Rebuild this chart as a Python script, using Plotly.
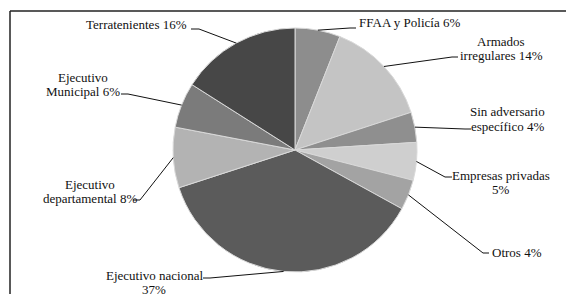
import math
import plotly.graph_objects as go

# ---- data ----
categories = ["FFAA y Policía", "Armados irregulares", "Sin adversario específico",
              "Empresas privadas", "Otros", "Ejecutivo nacional",
              "Ejecutivo departamental", "Ejecutivo Municipal", "Terratenientes"]
values = [6, 14, 4, 5, 4, 37, 8, 6, 16]
label_lines = [["FFAA y Policía 6%"], ["Armados", "irregulares 14%"],
               ["Sin adversario", "específico 4%"], ["Empresas privadas", "5%"],
               ["Otros 4%"], ["Ejecutivo nacional", "37%"],
               ["Ejecutivo", "departamental 8%"], ["Ejecutivo", "Municipal 6%"],
               ["Terratenientes 16%"]]

# ---- styles / layout ----
colors = ["#8d8d8d", "#c4c4c4", "#8f8f8f", "#cfcfcf", "#a3a3a3",
          "#5b5b5b", "#b3b3b3", "#7b7b7b", "#474747"]
W, H = 574, 294
OFF = 8  # page body margin offset
CX, CY, R = 295, 150, 122  # pie center / radius in screen px
LINE_GAP = 14
FONT = "Liberation Serif"

# label anchor (screen px, first line), xanchor; knee point and end point of leader (screen px)
label_pos = [(357, 23, "left"), (501, 41, "center"), (508, 112, "center"),
             (501, 175, "center"), (490, 252, "left"), (154, 275, "center"),
             (90, 184, "center"), (83, 77, "center"), (189, 25, "right")]
knees = [(350, 28), (452, 57), (465, 129), (445, 177), (483, 253),
         (210, 278), (140, 200), (128, 94), (199, 29)]
ends = [(356, 28), (458, 57), (471, 129), (452, 177), (489, 253),
        (203, 278), (133, 200), (121, 94), (191, 29)]

def px(x):
    return (x - OFF) / W

def py(y):
    return 1 - (y - OFF) / H

fig = go.Figure(go.Pie(
    labels=categories, values=values, sort=False, direction="clockwise", rotation=0,
    textinfo="none", hoverinfo="label+percent",
    marker=dict(colors=colors, line=dict(color="#d9d9d9", width=1)),
    domain=dict(x=[px(CX - R), px(CX + R)], y=[py(CY + R), py(CY - R)]),
    showlegend=False,
))

shapes = []
# frame (top and left edges)
shapes.append(dict(type="line", xref="paper", yref="paper", x0=px(10), x1=1.0, y0=py(11), y1=py(11),
                   line=dict(color="#222222", width=1.5)))
shapes.append(dict(type="line", xref="paper", yref="paper", x0=px(10), x1=px(10), y0=py(11), y1=0,
                   line=dict(color="#222222", width=1.5)))

total = sum(values)
cum = 0
annotations = []
for i, v in enumerate(values):
    mid = (cum + v / 2) / total * 2 * math.pi
    cum += v
    ex = CX + R * math.sin(mid)
    ey = CY - R * math.cos(mid)
    kx, ky = knees[i]
    nx, ny = ends[i]
    path = f"M {px(ex)} {py(ey)} L {px(kx)} {py(ky)} L {px(nx)} {py(ny)}"
    shapes.append(dict(type="path", xref="paper", yref="paper", path=path,
                       line=dict(color="#111111", width=1)))
    lx, ly, anc = label_pos[i]
    for j, line in enumerate(label_lines[i]):
        annotations.append(dict(x=px(lx), y=py(ly + j * LINE_GAP), xref="paper", yref="paper",
                                text=line, showarrow=False, xanchor=anc, yanchor="middle",
                                font=dict(family=FONT, size=13, color="#111111")))

fig.update_layout(width=W, height=H, margin=dict(l=0, r=0, t=0, b=0),
                  paper_bgcolor="white", plot_bgcolor="white",
                  font=dict(family=FONT),
                  shapes=shapes, annotations=annotations)
fig.write_html("out.html")
